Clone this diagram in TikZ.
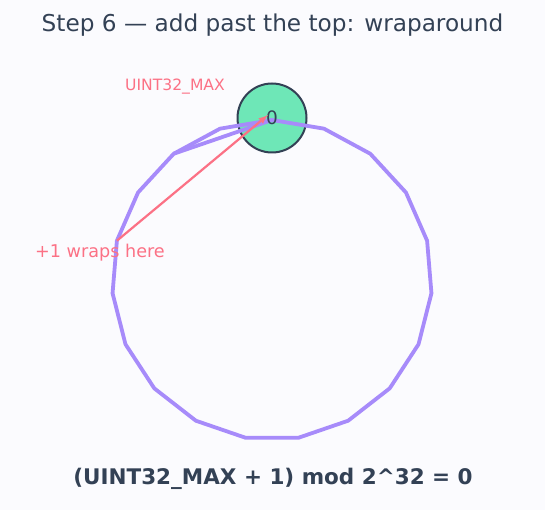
\documentclass[tikz,border=0pt]{standalone}
\usepackage{fontspec}
\setmainfont{DejaVu Sans}
\definecolor{fond}{HTML}{FBFBFE}
\definecolor{ardoise}{HTML}{334155}
\definecolor{violet}{HTML}{A78BFA}
\definecolor{vert}{HTML}{6EE7B7}
\definecolor{rose}{HTML}{FB7185}
\begin{document}
\begin{tikzpicture}[x=1pt,y=-1pt,
  anneau/.style={violet,line width=3.8pt,line join=round},
  zero/.style={circle,draw=ardoise,fill=vert,line width=2pt,minimum size=69pt,inner sep=0pt},
  fleche/.style={->,>=latex,rose,line width=2.2pt}]
% Définition du cadre
\fill[fond] (0,0) rectangle (545,510);
\useasboundingbox (0,0) rectangle (545,510);

% Titre
\node[ardoise,font=\fontsize{23.2}{27}\selectfont] (titre) at (272.5,25) {Step 6 — add past the top: wraparound};

% Cercle du zéro
\node[zero] (pzero) at (272,118) {};

% Sommets de l'anneau (19 pas)
\foreach \i in {0,...,18}
  \coordinate (v\i) at ({272+160*cos(90-\i*360/19)},{280-160*sin(90-\i*360/19)});

% Anneau
\draw[anneau] (v0) \foreach \i in {1,...,18} {-- (v\i)} -- cycle;
\draw[anneau] (v17) -- (v0);

% Étiquette du zéro
\node[ardoise,font=\fontsize{18.5}{21}\selectfont] (zerotxt) at (pzero.center) {0};

% Étiquettes
\node[rose,font=\fontsize{15.6}{18}\selectfont] (umax) at (175,87) {UINT32\_MAX};
\node[rose,font=\fontsize{17.6}{21}\selectfont] (ici) at (100,253) {+1 wraps here};

% Flèche du débordement
\draw[fleche] (v15) -- ([xshift=-4pt,yshift=3pt]pzero.center);

% Formule
\node[ardoise,font=\bfseries\fontsize{21.5}{26}\selectfont] (formule) at (273,479) {(UINT32\_MAX + 1) mod 2\^{}32 = 0};
\end{tikzpicture}
\end{document}
